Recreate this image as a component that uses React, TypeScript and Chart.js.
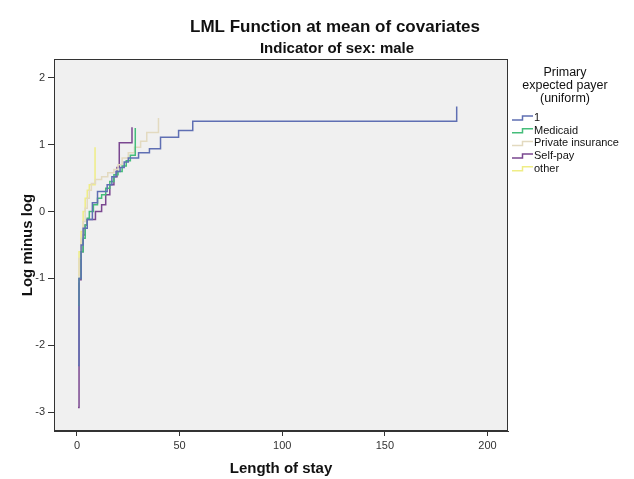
import { useEffect, useRef } from 'react';
import { Chart, registerables } from 'chart.js';

Chart.register(...registerables);

const FONT = "'Liberation Sans', Arial, sans-serif";

const xTicks = [0, 50, 100, 150, 200];
const yTicks = [-3, -2, -1, 0, 1, 2];

const seriesNames = ['1', 'Medicaid', 'Private insurance', 'Self-pay', 'other'];
const seriesColors = ['#5f6fb3', '#45bd7a', '#e3dac0', '#7a4790', '#efed86'];

// Length of stay (x) and log minus log (y) per payer group
const stay1 = [0.5, 1, 2, 3, 5, 7.5, 10, 14.7, 17, 19, 21, 23, 25, 30, 35.3, 40.7, 49.5, 56.4, 185];
const lml1 = [-2.3, -1.0, -0.5, -0.25, -0.12, 0.13, 0.3, 0.4, 0.52, 0.6, 0.66, 0.74, 0.8, 0.88, 0.94, 1.11, 1.21, 1.35, 1.57];

const stayMedicaid = [0.5, 1, 2, 3, 4, 5, 6, 8, 10, 12, 14, 16, 18, 20, 22, 24, 26, 28.4];
const lmlMedicaid = [-1.4, -1.0, -0.6, -0.4, -0.2, -0.1, 0.0, 0.1, 0.2, 0.25, 0.35, 0.45, 0.55, 0.6, 0.68, 0.76, 0.84, 1.25];

const stayPrivate = [0.5, 1, 2, 3, 4, 5, 6, 7, 9, 12, 15, 18, 20, 22, 25, 28, 31, 34, 39.7];
const lmlPrivate = [-1.05, -0.7, -0.4, -0.15, 0.05, 0.2, 0.32, 0.42, 0.48, 0.52, 0.58, 0.63, 0.7, 0.8, 0.88, 0.96, 1.05, 1.18, 1.4];

const staySelfPay = [0.5, 1, 2, 3, 4, 5, 9, 12, 14, 16, 18, 19.5, 20.6, 26.8];
const lmlSelfPay = [-2.93, -1.02, -0.6, -0.35, -0.2, -0.12, 0.0, 0.1, 0.25, 0.4, 0.52, 0.66, 1.03, 1.26];

const stayOther = [0.5, 1, 2, 3, 4, 5, 6, 8.8];
const lmlOther = [-0.95, -0.6, -0.3, 0.0, 0.2, 0.32, 0.4, 0.96];

const seriesX = [stay1, stayMedicaid, stayPrivate, staySelfPay, stayOther];
const seriesY = [lml1, lmlMedicaid, lmlPrivate, lmlSelfPay, lmlOther];

const legendTitle = ['Primary', 'expected payer', '(uniform)'];

export default function App() {
  const ref = useRef<HTMLCanvasElement>(null);

  useEffect(() => {
    if (!ref.current) return;
    const decor = {
      id: 'decor',
      beforeDatasetsDraw(chart: any) {
        const { ctx, chartArea: a } = chart;
        ctx.save();
        ctx.fillStyle = '#f0f0f0';
        ctx.fillRect(a.left, a.top, a.right - a.left, a.bottom - a.top);
        ctx.restore();
      },
      afterDraw(chart: any) {
        const { ctx, chartArea: a } = chart;
        ctx.save();
        ctx.strokeStyle = '#333';
        ctx.lineWidth = 1;
        ctx.strokeRect(Math.round(a.left) + 0.5, Math.round(a.top) + 0.5, a.right - a.left - 1, a.bottom - a.top - 1);

        ctx.fillStyle = '#111';
        ctx.textAlign = 'center';
        ctx.textBaseline = 'alphabetic';
        ctx.font = `bold 17px ${FONT}`;
        ctx.fillText('LML Function at mean of covariates', 335, 32);
        ctx.font = `bold 15px ${FONT}`;
        ctx.fillText('Indicator of sex: male', 337, 53);

        ctx.font = `bold 15px ${FONT}`;
        ctx.fillText('Length of stay', (a.left + a.right) / 2, 473);
        ctx.save();
        ctx.translate(31.5, (a.top + a.bottom) / 2);
        ctx.rotate(-Math.PI / 2);
        ctx.fillText('Log minus log', 0, 0);
        ctx.restore();

        // legend
        ctx.font = `12.5px ${FONT}`;
        ctx.textBaseline = 'middle';
        const titleYs = [72.7, 86, 98.5];
        legendTitle.forEach((t, i) => ctx.fillText(t, 565, titleYs[i]));
        ctx.font = `11px ${FONT}`;
        ctx.textAlign = 'left';
        seriesNames.forEach((name, i) => {
          const cy = 118 + i * 12.7;
          ctx.strokeStyle = seriesColors[i];
          ctx.lineWidth = 1.5;
          ctx.beginPath();
          ctx.moveTo(512, cy + 2);
          ctx.lineTo(522.5, cy + 2);
          ctx.lineTo(522.5, cy - 2);
          ctx.lineTo(533, cy - 2);
          ctx.stroke();
          ctx.fillStyle = '#111';
          ctx.fillText(name, 534, cy);
        });
        ctx.restore();
      },
    };

    const chart = new Chart(ref.current, {
      type: 'line',
      data: {
        datasets: seriesNames.map((name, i) => ({
          label: name,
          data: seriesX[i].map((x, j) => ({ x, y: seriesY[i][j] })),
          borderColor: seriesColors[i],
          backgroundColor: seriesColors[i],
          borderWidth: 1.5,
          stepped: 'before' as const,
          pointRadius: 0,
          fill: false,
        })),
      },
      options: {
        responsive: false,
        animation: false,
        layout: { padding: { top: 59, right: 126, left: 0, bottom: 0 } },
        plugins: {
          legend: { display: false },
          title: { display: false },
          tooltip: { enabled: false },
        },
        scales: {
          x: {
            type: 'linear',
            min: -11.2,
            max: 210,
            afterBuildTicks: (s: any) => {
              s.ticks = xTicks.map((v) => ({ value: v }));
            },
            afterFit: (s: any) => {
              s.height = 48;
            },
            grid: { display: true, drawOnChartArea: false, drawTicks: true, tickLength: 5, color: '#333' },
            border: { display: true, color: '#333' },
            ticks: { color: '#333', padding: 3, maxRotation: 0, font: { family: FONT, size: 11 } },
          },
          y: {
            type: 'linear',
            min: -3.28,
            max: 2.28,
            afterBuildTicks: (s: any) => {
              s.ticks = yTicks.map((v) => ({ value: v }));
            },
            afterFit: (s: any) => {
              s.width = 54;
            },
            grid: { display: true, drawOnChartArea: false, drawTicks: true, tickLength: 6, color: '#333' },
            border: { display: true, color: '#333' },
            ticks: { color: '#333', padding: 3, font: { family: FONT, size: 11 } },
          },
        },
      },
      plugins: [decor],
    });
    return () => chart.destroy();
  }, []);

  return (
    <div style={{ position: 'fixed', left: 0, top: 0, width: 634, height: 479, background: '#fff' }}>
      <canvas ref={ref} width={634} height={479} style={{ display: 'block' }} />
    </div>
  );
}
